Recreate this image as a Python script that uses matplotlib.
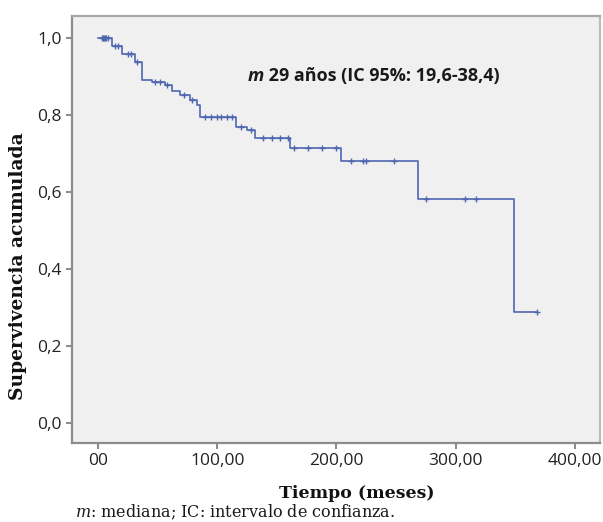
"""
Curva de supervivencia Kaplan-Meier (tiempo en meses)
"""

import matplotlib
matplotlib.use("Agg")
import matplotlib.pyplot as plt

# tiempos de evento y supervivencia acumulada tras cada escalón
step_times = [0, 11.5, 20, 31, 36.6, 45, 56, 62, 69, 77, 83, 85.5, 116, 125, 132, 161, 204, 268, 349, 368]
step_surv = [1.0, 0.979, 0.958, 0.938, 0.891, 0.886, 0.878, 0.861, 0.852, 0.839, 0.826, 0.795,
             0.770, 0.761, 0.740, 0.714, 0.681, 0.582, 0.288, 0.288]

# observaciones censuradas
censor_times = [3, 4, 5, 6, 7, 8, 14, 17, 25, 28, 33, 48, 52, 58, 72, 79,
                90, 95, 100, 103, 108, 112, 120, 128,
                138, 146, 153, 159, 164, 176, 188, 200,
                212, 222, 225, 248, 275, 308, 317, 368]
censor_surv = [1.0, 1.0, 1.0, 1.0, 1.0, 1.0, 0.979, 0.979, 0.958, 0.958, 0.938, 0.886, 0.886, 0.878, 0.852, 0.839,
               0.795, 0.795, 0.795, 0.795, 0.795, 0.795, 0.770, 0.761,
               0.740, 0.740, 0.740, 0.740, 0.714, 0.714, 0.714, 0.714,
               0.681, 0.681, 0.681, 0.681, 0.582, 0.582, 0.582, 0.288]

x_ticks = [0, 100, 200, 300, 400]
x_labels = ['00', '100,00', '200,00', '300,00', '400,00']
y_ticks = [0.0, 0.2, 0.4, 0.6, 0.8, 1.0]
y_labels = ['0,0', '0,2', '0,4', '0,6', '0,8', '1,0']

line_color = '#4f67b0'
frame_color = '#8c8c8c'

fig = plt.figure(figsize=(6.03, 5.22), dpi=100)
ax = fig.add_axes([0.1194, 0.1513, 0.8756, 0.818])
ax.set_facecolor('#f0f0f0')

ax.step(step_times, step_surv, where='post', color=line_color, linewidth=1.2)
ax.plot(censor_times, censor_surv, linestyle='none', marker='+', markersize=5,
        markeredgewidth=1.0, color=line_color)

ax.set_xlim(-21.8, 421)
ax.set_ylim(-0.052, 1.057)
ax.set_xticks(x_ticks)
ax.set_xticklabels(x_labels)
ax.set_yticks(y_ticks)
ax.set_yticklabels(y_labels)
ax.tick_params(axis='both', direction='out', length=4, width=1.5, color=frame_color,
               labelsize=12.5, labelcolor='#222222')
for lab in ax.get_xticklabels() + ax.get_yticklabels():
    lab.set_fontfamily('Open Sans')

for side in ['left', 'bottom', 'top', 'right']:
    ax.spines[side].set_color(frame_color)
    ax.spines[side].set_linewidth(1.6)
ax.spines['top'].set_color('#a8a8a8')
ax.spines['right'].set_color('#bcbcbc')

# anotación de la mediana
t1 = ax.text(0.333, 0.848, 'm', transform=ax.transAxes, fontfamily='Open Sans',
             fontsize=13, fontweight='bold', fontstyle='italic', color='#1a1a1a', va='baseline')
ax.annotate(' 29 años (IC 95%: 19,6-38,4)', xy=(1, 0), xycoords=t1, va='bottom',
            fontfamily='Open Sans', fontsize=13, fontweight='bold', color='#1a1a1a')

# etiquetas de ejes
fig.text(0.030, 0.49, 'Supervivencia acumulada', rotation=90, ha='center', va='center',
         fontfamily='DejaVu Serif', fontweight='bold', fontsize=13.5, color='#111111')
fig.text(0.592, 0.055, 'Tiempo (meses)', ha='center', va='center',
         fontfamily='DejaVu Serif', fontweight='bold', fontsize=12.5, color='#111111')

plt.rcParams['mathtext.fontset'] = 'dejavuserif'
fig.text(0.124, 0.018, r'$\mathit{m}$: mediana; IC: intervalo de confianza.', ha='left', va='center',
         fontfamily='DejaVu Serif', fontsize=11.5, color='#1a1a1a')

fig.savefig('out.png', dpi=100)
